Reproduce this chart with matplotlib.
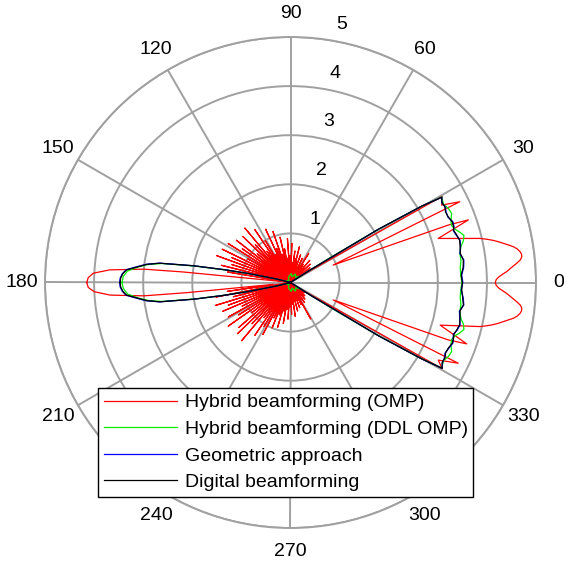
import numpy as np
import matplotlib.pyplot as plt

plt.rcParams['font.family'] = ['Liberation Sans', 'DejaVu Sans']

# ---- data (angles in degrees, linear array gain) ----
# Hybrid beamforming (OMP)
omp_back_lo_theta = [-180, -178.6, -177.3, -176.0, -174.8, -174.4, -173.8]
omp_back_lo_r = [4.15, 4.12, 4.00, 3.68, 3.00, 2.10, 0.35]
# side lobes from -172 to -34 every 1.5 degrees
omp_side_lo_r = [1.30, 0.05, 1.55, 0.12, 1.20, 0.04, 1.60, 0.10, 1.35, 0.06,
                 1.50, 0.15, 1.10, 0.05, 1.45, 0.08, 1.25, 0.12, 1.55, 0.04,
                 1.00, 0.10, 1.40, 0.06, 1.50, 0.14, 1.15, 0.05, 1.55, 0.09,
                 0.90, 0.12, 1.30, 0.04, 1.05, 0.10, 1.20, 0.06, 0.80, 0.15,
                 1.00, 0.05, 0.70, 0.08, 0.95, 0.12, 0.60, 0.04, 0.85, 0.10,
                 0.55, 0.06, 0.75, 0.14, 0.50, 0.05, 0.65, 0.09, 0.45, 0.12,
                 0.70, 0.04, 0.40, 0.10, 0.60, 0.06, 0.35, 0.15, 0.55, 0.05,
                 0.40, 0.08, 0.50, 0.12, 0.85, 0.04, 0.40, 0.10, 0.50, 0.06,
                 0.30, 0.14, 0.45, 0.05, 0.30, 0.09, 0.40, 0.12, 0.25, 0.04,
                 0.35, 0.10, 0.20]
omp_main_theta = [-33, -31.5, -29.6, -27.7, -25.7, -22.2, -20.0, -19.2, -15.9,
                  -13.1, -12.5, -11.9, -11.2, -10.4, -9.8, -9.1, -8.4, -7.6,
                  -7.0, -6.4, -5.7, -5.0, -4.3, -3.6, -2.9, -2.2, -1.5, -0.8,
                  0, 0.8, 1.5, 2.2, 2.9, 3.6, 4.3, 5.0, 5.7, 6.4, 7.0, 7.6, 8.4,
                  9.1, 9.8, 10.4, 11.2, 11.9, 12.5, 13.1, 16.6, 19.4, 20.0,
                  22.2, 25.5, 27.1, 29.6, 31.5, 33]
omp_main_r = [0.20, 0.40, 3.55, 3.40, 3.79, 0.94, 3.42, 3.80, 3.17,
              3.96, 4.08, 4.19, 4.30, 4.41, 4.50, 4.60, 4.67, 4.72,
              4.74, 4.74, 4.71, 4.64, 4.56, 4.48, 4.41, 4.32, 4.24, 4.19,
              4.17, 4.19, 4.24, 4.32, 4.41, 4.48, 4.56, 4.64, 4.71, 4.74, 4.74,
              4.72, 4.67, 4.60, 4.50, 4.41, 4.30, 4.19, 4.08, 3.96, 3.14, 3.84,
              3.42, 0.94, 3.82, 3.46, 3.55, 0.35, 0.15]
# side lobes from 34 to 167.5 every 1.5 degrees
omp_side_up_r = [0.35, 0.05, 0.50, 0.12, 0.30, 0.04, 0.55, 0.10, 0.40, 0.06,
                 0.60, 0.15, 0.35, 0.05, 0.45, 0.08, 0.70, 0.12, 0.40, 0.04,
                 0.55, 0.10, 0.35, 0.06, 0.60, 0.14, 0.45, 0.05, 0.75, 0.09,
                 0.50, 0.12, 0.65, 0.04, 0.40, 0.10, 0.80, 0.06, 0.55, 0.15,
                 0.90, 0.05, 0.50, 0.08, 0.70, 0.12, 0.95, 0.04, 0.60, 0.10,
                 1.10, 0.06, 0.75, 0.15, 1.20, 0.05, 0.65, 0.09, 1.00, 0.12,
                 1.30, 0.04, 0.80, 0.10, 1.45, 0.06, 1.05, 0.14, 1.35, 0.05,
                 0.90, 0.09, 1.40, 0.12, 1.20, 0.04, 1.50, 0.10, 1.00, 0.06,
                 1.55, 0.15, 1.30, 0.05, 1.60, 0.08, 1.25, 0.12, 1.45, 0.04]
omp_back_up_theta = [169, 170.5, 172, 173.8, 174.4, 174.8, 176.0, 177.3, 178.6, 180]
omp_back_up_r = [0.08, 1.30, 0.10, 0.30, 2.20, 3.00, 3.69, 4.02, 4.12, 4.15]

# Hybrid beamforming (DDL OMP)
ddl_theta = [-180, -178, -176, -174.2, -172.8, -171.6, -170.2, -169, -168, -166,
             -164, -150, -130, -110, -95, -85, -75, -60, -45, -36, -33.5,
             -32.2, -31.2, -30.3, -29.5, -28.5, -27.0, -25.2, -23.2, -21.0,
             -19.5, -18.0, -16.5, -15.2, -13.5, -12.0, -9.8, -7.4, -5.0, -2.5,
             0, 2.5, 5.0, 7.4, 9.8, 12.0, 13.5, 15.2, 16.5, 18.0, 19.5, 21.0,
             23.2, 25.2, 27.0, 28.5, 29.5, 30.3, 31.2, 32.2, 33.5, 36, 45, 60,
             75, 85, 95, 110, 130, 150, 164, 166, 168, 169, 170.2, 171.6, 172.8,
             174.2, 176, 178, 180]
ddl_r = [3.43, 3.41, 3.33, 3.12, 2.92, 2.65, 1.95, 1.30, 0.85, 0.25,
         0.05, 0.08, 0.05, 0.12, 0.15, 0.18, 0.12, 0.20, 0.15, 0.22, 0.10,
         0.90, 2.00, 3.00, 3.54, 3.52, 3.50, 3.55, 3.57, 3.50,
         3.48, 3.52, 3.60, 3.66, 3.62, 3.55, 3.50, 3.50, 3.47, 3.47,
         3.49, 3.47, 3.47, 3.50, 3.50, 3.55, 3.62, 3.66, 3.60, 3.52, 3.48, 3.50,
         3.57, 3.55, 3.50, 3.52, 3.54, 3.00, 2.00, 0.90, 0.10, 0.22, 0.15, 0.20,
         0.12, 0.18, 0.15, 0.12, 0.05, 0.08, 0.05, 0.25, 0.85, 1.30, 1.95, 2.65, 2.92,
         3.12, 3.33, 3.41, 3.43]

# Geometric approach and Digital beamforming share the same angle grid
dig_theta = [-180, -178.5, -177, -175.6, -174.5, -172.8, -171.6, -170.2, -169,
             -168, -166, -164, -120, -60, -33.5, -32.5, -31.2, -30.2, -29.5,
             -27.8, -26.1, -24.5, -22.6, -20.5, -18.9, -17.6, -16.0, -14.0,
             -11.9, -9.6, -7.4, -5.0, -2.5, 0, 2.5, 5.0, 7.4, 9.6, 11.9, 14.0,
             16.0, 17.6, 18.9, 20.5, 22.6, 24.5, 26.1, 27.8, 29.4, 30.2, 31.2,
             32.5, 33.5, 60, 120, 164, 166, 168, 169, 170.2, 171.6, 172.8,
             174.5, 175.6, 177, 178.5, 180]
geo_r = [3.48, 3.47, 3.43, 3.36, 3.20, 2.96, 2.70, 2.00, 1.36, 0.90, 0.30,
         0.02, 0.02, 0.02, 0.02, 0.50, 2.10, 3.10, 3.55,
         3.50, 3.49, 3.46, 3.49, 3.53, 3.50, 3.48, 3.53, 3.56,
         3.52, 3.49, 3.56, 3.53, 3.48, 3.51, 3.49, 3.54, 3.56, 3.50, 3.54, 3.56,
         3.51, 3.48, 3.52, 3.53, 3.47, 3.48, 3.51, 3.48, 3.54, 3.10, 2.10,
         0.50, 0.02, 0.02, 0.02, 0.02, 0.30, 0.90, 1.36, 2.00, 2.70, 2.96,
         3.20, 3.36, 3.43, 3.47, 3.48]
dig_r = [3.47, 3.46, 3.42, 3.35, 3.18, 2.95, 2.69, 2.00, 1.35, 0.90, 0.30,
         0.02, 0.02, 0.02, 0.02, 0.50, 2.10, 3.10, 3.55,
         3.49, 3.50, 3.47, 3.48, 3.52, 3.51, 3.49, 3.52, 3.55,
         3.53, 3.50, 3.55, 3.52, 3.49, 3.50, 3.48, 3.53, 3.55, 3.51, 3.53, 3.55,
         3.52, 3.49, 3.51, 3.52, 3.48, 3.47, 3.50, 3.49, 3.53, 3.10, 2.10,
         0.50, 0.02, 0.02, 0.02, 0.02, 0.30, 0.90, 1.35, 2.00, 2.69, 2.95,
         3.18, 3.35, 3.42, 3.46, 3.47]

labels = ['Hybrid beamforming (OMP)', 'Hybrid beamforming (DDL OMP)',
          'Geometric approach', 'Digital beamforming']

omp_theta = np.concatenate([omp_back_lo_theta, np.arange(-172, -33, 1.5),
                            omp_main_theta, np.arange(34, 168, 1.5),
                            omp_back_up_theta])
omp_r = np.concatenate([omp_back_lo_r, omp_side_lo_r, omp_main_r,
                        omp_side_up_r, omp_back_up_r])

W, H = 564, 568
fig = plt.figure(figsize=(W / 100, H / 100), dpi=100)
cx, cy, R = 290.5, 282.5, 245.5
ax = fig.add_axes([(cx - R) / W, (H - cy - R) / H, 2 * R / W, 2 * R / H],
                  projection='polar')

ax.plot(np.deg2rad(omp_theta), omp_r, color='#ff0000', lw=0.9, label=labels[0])
ax.plot(np.deg2rad(ddl_theta), ddl_r, color='#00ee00', lw=0.9, label=labels[1])
ax.plot(np.deg2rad(dig_theta), geo_r, color='#0000ff', lw=0.9, label=labels[2])
ax.plot(np.deg2rad(dig_theta), dig_r, color='black', lw=0.9, label=labels[3])

grid_col = '#a0a0a0'
ax.set_rlim(0, 5)
ax.set_rgrids([1, 2, 3, 4, 5], labels=[])
ax.set_thetagrids(range(0, 360, 30), labels=[])
ax.grid(True, color=grid_col, lw=1.4, ls='-')
ax.spines['polar'].set_color(grid_col)
ax.spines['polar'].set_linewidth(1.4)
ax.tick_params(length=0)

for a in range(0, 360, 30):
    ax.text(np.deg2rad(a), 5.47, str(a), ha='center', va='center',
            fontsize=14, clip_on=False)
for r in [1, 2, 3, 4, 5]:
    ax.annotate(str(r), xy=(np.deg2rad(82), r), xytext=(12.6, 10.7),
                textcoords='offset points', ha='center', va='center',
                fontsize=14, annotation_clip=False)

leg = ax.legend(loc='upper left', bbox_to_anchor=(98 / W, 1 - 388 / H),
                bbox_transform=fig.transFigure, fontsize=14, fancybox=False,
                edgecolor='black', framealpha=1, borderaxespad=0,
                handlelength=3.75, handletextpad=0.4, borderpad=0.3,
                labelspacing=0.46)
leg.get_frame().set_linewidth(1.0)

fig.savefig('out.png', dpi=100)
